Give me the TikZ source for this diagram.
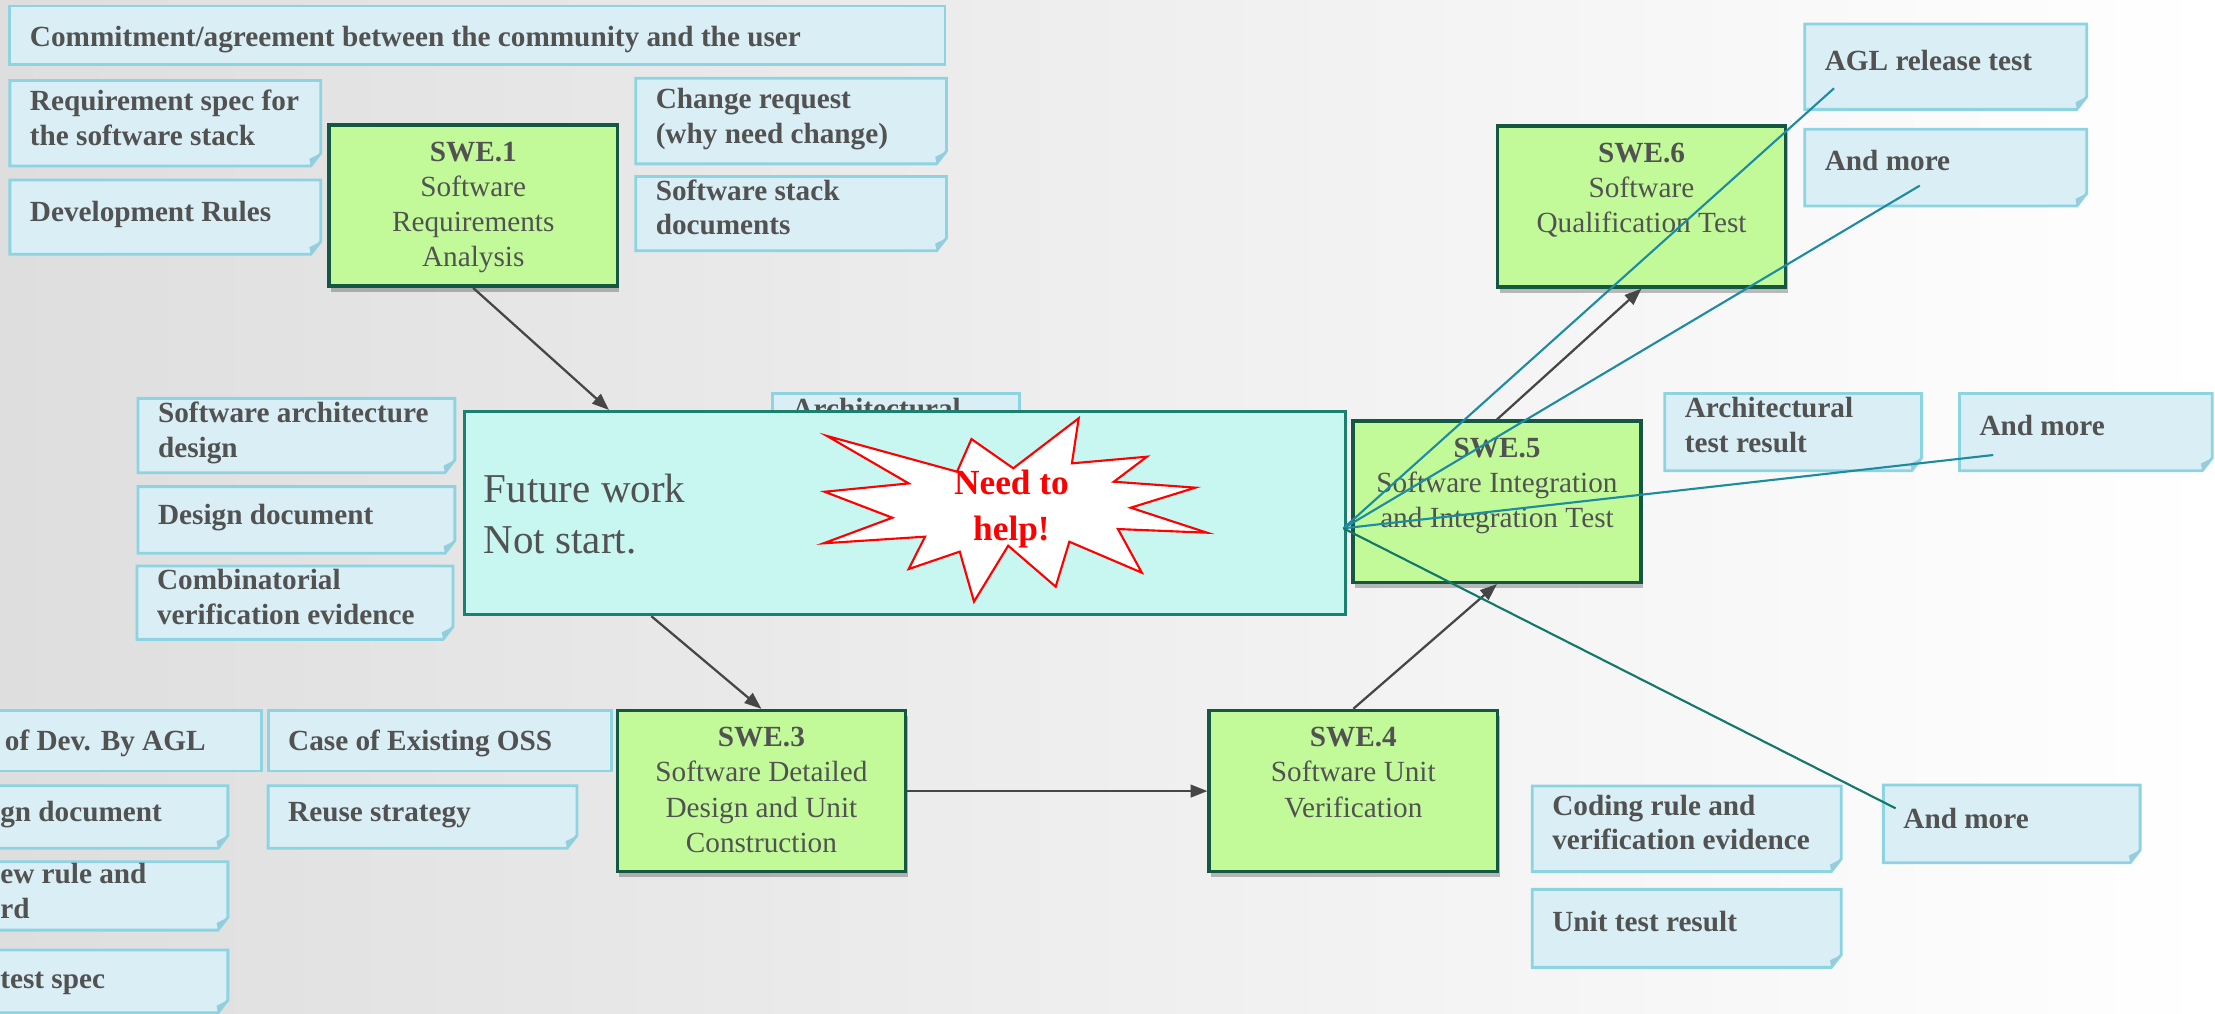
\documentclass[tikz,border=0pt]{standalone}
\usepackage{fontspec}
\setmainfont{Liberation Serif}
\usetikzlibrary{arrows.meta,shadows}
\definecolor{notefill}{RGB}{218,239,245}
\definecolor{noteline}{RGB}{140,212,226}
\definecolor{notefold}{RGB}{150,205,220}
\definecolor{swefill}{RGB}{194,250,154}
\definecolor{sweline}{RGB}{20,88,68}
\definecolor{futfill}{RGB}{200,246,240}
\definecolor{futline}{RGB}{28,128,112}
\definecolor{txtgray}{RGB}{82,82,82}
\definecolor{arrgray}{RGB}{70,70,70}
\definecolor{linkblue}{RGB}{30,140,160}
\definecolor{linkgreen}{RGB}{18,120,105}
\definecolor{bgleft}{RGB}{222,222,222}
\begin{document}
\begin{tikzpicture}[x=1pt,y=-1pt,
notebox/.style={draw=none,inner sep=0pt,outer sep=0pt},
pnotebox/.style={draw=noteline,fill=notefill,line width=2pt,inner sep=0pt,outer sep=0pt},
noteshape/.style={draw=noteline,fill=notefill,line width=2pt},
notetext/.style={anchor=base west,inner sep=0pt,align=left,text=txtgray,font=\bfseries\fontsize{20.7}{24.7}\selectfont},
swebox/.style={draw=sweline,fill=swefill,line width=2.5pt,minimum width=204pt,minimum height=114pt,inner sep=0pt,drop shadow={shadow xshift=1.5pt,shadow yshift=-4pt,opacity=0.25,fill=black}},
swetext/.style={anchor=base,inner sep=0pt,align=center,text=txtgray,font=\fontsize{20.7}{24.8}\selectfont},
futtext/.style={anchor=base west,inner sep=0pt,align=left,text=txtgray,font=\fontsize{29}{35.5}\selectfont},
needtext/.style={anchor=base,inner sep=0pt,align=center,text=red,font=\bfseries\fontsize{25}{32}\selectfont},
flow/.style={draw=arrgray,line width=1.6pt,-{Triangle[length=12pt,width=9pt]}},
link/.style={draw=linkblue,line width=1.5pt}]
\useasboundingbox (0,0) rectangle (1568,717.8);
\shade[left color=bgleft,right color=white] (0,0) rectangle (1568,717.8);
\newcommand\note[7]{
\node[notebox,minimum width={(#4-(#2))*1pt},minimum height={(#5-(#3))*1pt}] (#1) at ({(#2+#4)/2},{(#3+#5)/2}) {};
\path[noteshape] (#1.north west) -- (#1.north east) -- ([yshift=9pt]#1.south east) -- ([xshift=-7pt]#1.south east) -- (#1.south west) -- cycle;
\fill[notefold] ([yshift=9pt]#1.south east) -- ([xshift=-8pt,yshift=5pt]#1.south east) -- ([xshift=-7pt]#1.south east) -- cycle;
\node[notetext] (#1-t) at (#2+14,#3+#6) {#7};
}
\newcommand\pnote[7]{
\node[pnotebox,minimum width={(#4-(#2))*1pt},minimum height={(#5-(#3))*1pt}] (#1) at ({(#2+#4)/2},{(#3+#5)/2}) {};
\node[notetext] (#1-t) at (#2+14,#3+#6) {#7};
}
\newcommand\swe[5]{
\node[swebox] (#1) at (#2,#3) {};
\node[swetext] (#1-t) at ([yshift={-(27+(#4-1)*24.8)*1pt}]#1.north) {#5};
}
\pnote{commit}{7}{4.2}{669}{45.5}{28.8}{Commitment/agreement between the community and the user}
\note{reqspec}{7}{57}{227}{117.5}{45.7}{Requirement spec for\\the software stack}
\note{devrules}{7}{127.4}{227}{180}{29.6}{Development Rules}
\note{change}{450}{55.4}{670}{116}{45.9}{Change request\\(why need change)}
\note{stackdoc}{450}{125}{670}{177.5}{41.3}{Software stack\\documents}
\note{archdesign}{97.7}{282}{322}{334.6}{41.9}{Software architecture\\design}
\note{designdoc}{97.7}{344.5}{322}{391.7}{26.5}{Design document}
\note{combi}{97}{400.7}{320.7}{452.6}{41.2}{Combinatorial\\verification evidence}
\pnote{devagl}{-10.7}{503}{184.9}{545.8}{28.6}{of Dev. By AGL}
\note{detdoc}{-14}{556.2}{161.3}{600.5}{25.5}{gn document}
\note{review}{-14}{610}{161.3}{658.4}{40}{ew rule and\\rd}
\note{testspec}{-14}{672.5}{161.3}{717}{27.2}{test spec}
\pnote{oss}{189.8}{503}{432.8}{545.8}{28.6}{Case of Existing OSS}
\note{reuse}{189.8}{556.2}{408.4}{600.5}{25.5}{Reuse strategy}
\pnote{archhidden}{546.8}{278.4}{721.6}{340}{17.9}{Architectural}
\note{aglrel}{1277.6}{17}{1477.2}{77.4}{32.6}{AGL release test}
\note{more1}{1277.6}{91.5}{1477.2}{145.8}{29.3}{And more}
\note{archtest}{1178.5}{278.5}{1360.3}{333.2}{41.6}{Architectural\\test result}
\note{more2}{1387.1}{278.5}{1566}{333.2}{29.5}{And more}
\note{coding}{1084.7}{556.4}{1303.4}{617}{45.3}{Coding rule and\\verification evidence}
\note{unittest}{1084.7}{629.6}{1303.4}{684.8}{30}{Unit test result}
\note{more3}{1333.2}{555.7}{1515}{610.7}{30.7}{And more}
\swe{swe1}{335}{145.6}{4}{\textbf{SWE.1}\\Software\\Requirements\\Analysis}
\swe{swe6}{1162}{146.1}{3}{\textbf{SWE.6}\\Software\\Qualification Test}
\swe{swe5}{1059.7}{355.2}{3}{\textbf{SWE.5}\\Software Integration\\and Integration Test}
\swe{swe3}{539}{560}{4}{\textbf{SWE.3}\\Software Detailed\\Design and Unit\\Construction}
\swe{swe4}{958}{560}{3}{\textbf{SWE.4}\\Software Unit\\Verification}
\node[draw=futline,fill=futfill,line width=2pt,minimum width=624pt,minimum height=144pt,inner sep=0pt] (fut) at (640.7,363.2) {};
\node[futtext] (fut-t) at (342.3,391.5) {Future work\\Not start.};
\draw[red,fill=white,line width=1.5pt] (585.4,308.6) -- (643.3,342.2) -- (583.7,348.1) -- (631.7,366.5) -- (583,384.6) -- (654.8,379.9) -- (643.3,402.8) -- (679.4,390.5) -- (689.5,425.9) -- (713.7,386.3) -- (747.3,415.3) -- (757,383.5) -- (808.3,405.4) -- (791.4,374.5) -- (854.5,377.1) -- (800.4,359.4) -- (846.2,345.2) -- (788.5,341) -- (811.9,323.3) -- (758.8,328) -- (763.6,296.1) -- (717.3,331.5) -- (687.7,310.8) -- (677.5,333.9) -- cycle;
\node[needtext] (need) at (716,382.3) {Need to\\help!};
\draw[flow] (swe1.south) -- ([xshift=103.4pt]fut.north west);
\draw[flow] ([xshift=133.4pt]fut.south west) -- (swe3.north);
\draw[flow] (swe3.east) -- (swe4.west);
\draw[flow] (swe4.north) -- (swe5.south);
\draw[flow] (swe5.north) -- (swe6.south);
\coordinate (hub) at (951,374);
\coordinate (aglrel-e) at (1298.3,62.5);
\coordinate (more1-e) at (1359,131.4);
\coordinate (more2-e) at (1411,322.1);
\coordinate (more3-e) at (1341.9,572.2);
\draw[link] (hub) -- (aglrel-e);
\draw[link] (hub) -- (more1-e);
\draw[link] (hub) -- (more2-e);
\draw[link,draw=linkgreen] (hub) -- (more3-e);
\end{tikzpicture}
\end{document}
